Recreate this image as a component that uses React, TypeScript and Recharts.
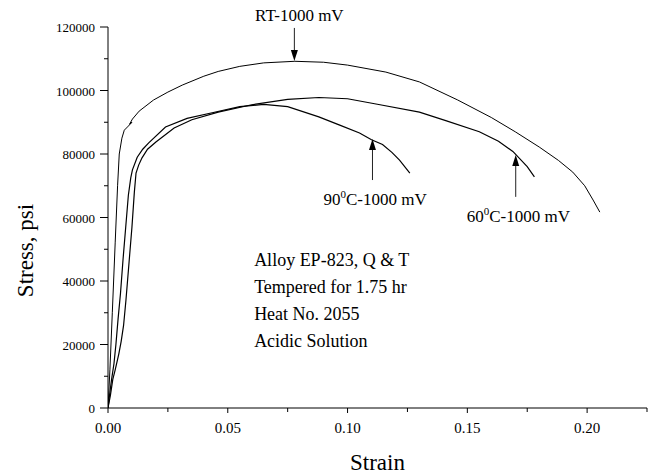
import { LineChart, Line, XAxis, YAxis, ReferenceLine, ReferenceDot } from "recharts";

type Pt = { x: number; y: number };

const strainTicks = [0, 0.025, 0.05, 0.075, 0.1, 0.125, 0.15, 0.175, 0.2, 0.225];
const stressTicks = [0, 10000, 20000, 30000, 40000, 50000, 60000, 70000, 80000, 90000, 100000, 110000, 120000];

const rtCurve: Pt[] = [
  { x: 0, y: 0 },
  { x: 0.0008, y: 12000 },
  { x: 0.0018, y: 30000 },
  { x: 0.003, y: 52000 },
  { x: 0.004, y: 70000 },
  { x: 0.0047, y: 80000 },
  { x: 0.0058, y: 85000 },
  { x: 0.0068, y: 87500 },
  { x: 0.0085, y: 88800 },
  { x: 0.01, y: 90000 },
  { x: 0.009, y: 89400 },
  { x: 0.0102, y: 91000 },
  { x: 0.013, y: 93500 },
  { x: 0.019, y: 97000 },
  { x: 0.025, y: 99500 },
  { x: 0.031, y: 101700 },
  { x: 0.04, y: 104500 },
  { x: 0.046, y: 106000 },
  { x: 0.055, y: 107600 },
  { x: 0.065, y: 108700 },
  { x: 0.078, y: 109200 },
  { x: 0.09, y: 108900 },
  { x: 0.1, y: 108000 },
  { x: 0.116, y: 105800 },
  { x: 0.13, y: 102700 },
  { x: 0.146, y: 97000 },
  { x: 0.16, y: 91500 },
  { x: 0.17, y: 87000 },
  { x: 0.18, y: 82200 },
  { x: 0.188, y: 78000 },
  { x: 0.194, y: 74300 },
  { x: 0.199, y: 70000 },
  { x: 0.2025, y: 65500 },
  { x: 0.2053, y: 61700 },
];

const c60Curve: Pt[] = [
  { x: 0, y: 0 },
  { x: 0.001, y: 4000 },
  { x: 0.002, y: 9000 },
  { x: 0.003, y: 12000 },
  { x: 0.0045, y: 17000 },
  { x: 0.0055, y: 21000 },
  { x: 0.0065, y: 26000 },
  { x: 0.0075, y: 34000 },
  { x: 0.0088, y: 46000 },
  { x: 0.01, y: 57000 },
  { x: 0.011, y: 68000 },
  { x: 0.0117, y: 74000 },
  { x: 0.0128, y: 76500 },
  { x: 0.0142, y: 78800 },
  { x: 0.0165, y: 81500 },
  { x: 0.02, y: 83800 },
  { x: 0.0276, y: 88200 },
  { x: 0.035, y: 90800 },
  { x: 0.046, y: 93200 },
  { x: 0.06, y: 95500 },
  { x: 0.075, y: 97200 },
  { x: 0.088, y: 97800 },
  { x: 0.1, y: 97400 },
  { x: 0.113, y: 95600 },
  { x: 0.13, y: 93200 },
  { x: 0.141, y: 90500 },
  { x: 0.155, y: 87000 },
  { x: 0.163, y: 84000 },
  { x: 0.169, y: 80800 },
  { x: 0.175, y: 76000 },
  { x: 0.178, y: 72800 },
];

const c90Curve: Pt[] = [
  { x: 0, y: 0 },
  { x: 0.0008, y: 5000 },
  { x: 0.0015, y: 9000 },
  { x: 0.0025, y: 14000 },
  { x: 0.0033, y: 20000 },
  { x: 0.0042, y: 28000 },
  { x: 0.0052, y: 36000 },
  { x: 0.0063, y: 47000 },
  { x: 0.0074, y: 57000 },
  { x: 0.0085, y: 67000 },
  { x: 0.0095, y: 72500 },
  { x: 0.0102, y: 75000 },
  { x: 0.0122, y: 79000 },
  { x: 0.0145, y: 81500 },
  { x: 0.017, y: 83500 },
  { x: 0.024, y: 88500 },
  { x: 0.033, y: 91200 },
  { x: 0.0435, y: 93000 },
  { x: 0.055, y: 94900 },
  { x: 0.065, y: 95600 },
  { x: 0.075, y: 94900 },
  { x: 0.088, y: 91700 },
  { x: 0.097, y: 89000 },
  { x: 0.105, y: 86600 },
  { x: 0.11, y: 84500 },
  { x: 0.1146, y: 83000 },
  { x: 0.1185, y: 80500 },
  { x: 0.1217, y: 78100 },
  { x: 0.126, y: 74000 },
];

const infoLines = ["Alloy EP-823, Q & T", "Tempered for 1.75 hr", "Heat No. 2055", "Acidic Solution"];

const FONT = '"Liberation Serif", "Times New Roman", Times, serif';
const serif = { fontFamily: FONT };

function StrainTick(props: any) {
  const { x, y, payload } = props;
  const v = payload.value as number;
  const major = Math.abs(v / 0.05 - Math.round(v / 0.05)) < 1e-6;
  return (
    <g>
      <line x1={x} x2={x} y1={y} y2={y + (major ? 5 : 4)} stroke="#000" />
      {major && (
        <text x={x} y={y + 25} textAnchor="middle" fontSize={15} style={serif} fill="#000">
          {v.toFixed(2)}
        </text>
      )}
    </g>
  );
}

function StressTick(props: any) {
  const { x, y, payload } = props;
  const v = payload.value as number;
  const major = v % 20000 === 0;
  return (
    <g>
      <line x1={x} x2={x - (major ? 8 : 4)} y1={y} y2={y} stroke="#000" />
      {major && (
        <text x={x - 13} y={y + 5} textAnchor="end" fontSize={13} style={serif} fill="#000">
          {v}
        </text>
      )}
    </g>
  );
}

// arrow drawn from the label end to the tip on the curve
function arrow(label: "rt" | "c90" | "c60") {
  return (p: any) => {
    const { x1, y1, x2, y2 } = p;
    const dir = y2 > y1 ? 1 : -1;
    const head = `${x2},${y2} ${x2 - 3.5},${y2 - dir * 11} ${x2 + 3.5},${y2 - dir * 11}`;
    let text = null;
    if (label === "rt") {
      text = (
        <text x={x1 + 5} y={y1 - 7} textAnchor="middle" fontSize={17} style={serif} fill="#000">
          RT-1000 mV
        </text>
      );
    } else {
      const t = label === "c90" ? "90" : "60";
      text = (
        <text x={x1 - 49} y={y1 + 25} fontSize={17} style={serif} fill="#000">
          <tspan>{t}</tspan>
          <tspan dy={-7} fontSize={11}>0</tspan>
          <tspan dy={7}>C-1000 mV</tspan>
        </text>
      );
    }
    return (
      <g>
        <line x1={x1} y1={y1} x2={x2} y2={y2 - dir * 8} stroke="#222" strokeWidth={1} />
        <polygon points={head} fill="#000" />
        {text}
      </g>
    );
  };
}

function InfoBlock(p: any) {
  const { cx, cy } = p;
  return (
    <g>
      {infoLines.map((s, i) => (
        <text key={s} x={cx} y={cy + i * 27} fontSize={18} style={serif} fill="#000">
          {s}
        </text>
      ))}
    </g>
  );
}

export default function App() {
  return (
    <div style={{ position: "absolute", left: 0, top: 0, width: 656, height: 475, background: "#fff", fontFamily: FONT }}>
      <LineChart width={656} height={475} margin={{ top: 27, right: 9, bottom: 37, left: 8 }} style={serif}>
        <XAxis
          dataKey="x"
          type="number"
          domain={[0, 0.225]}
          ticks={strainTicks}
          interval={0}
          allowDataOverflow
          height={30}
          tickSize={0}
          tickMargin={0}
          tickLine={false}
          tick={<StrainTick />}
          axisLine={{ stroke: "#000", strokeWidth: 1 }}
          label={{
            content: (lp: any) => {
              const vb = lp.viewBox;
              return (
                <text x={vb.x + vb.width / 2} y={vb.y + 62} textAnchor="middle" fontSize={23} style={serif} fill="#000">
                  Strain
                </text>
              );
            },
          }}
        />
        <YAxis
          type="number"
          domain={[0, 120000]}
          ticks={stressTicks}
          interval={0}
          width={100}
          tickSize={0}
          tickMargin={0}
          tickLine={false}
          tick={<StressTick />}
          axisLine={{ stroke: "#000", strokeWidth: 1 }}
          label={{
            content: (lp: any) => {
              const vb = lp.viewBox;
              const cx = vb.x + 25;
              const cy = vb.y + vb.height / 2 + 33;
              return (
                <text x={cx} y={cy} transform={`rotate(-90 ${cx} ${cy})`} textAnchor="middle" fontSize={23} style={serif} fill="#000">
                  Stress, psi
                </text>
              );
            },
          }}
        />
        <Line data={rtCurve} dataKey="y" type="linear" dot={false} stroke="#000" strokeWidth={1} isAnimationActive={false} />
        <Line data={c60Curve} dataKey="y" type="linear" dot={false} stroke="#000" strokeWidth={1.2} isAnimationActive={false} />
        <Line data={c90Curve} dataKey="y" type="linear" dot={false} stroke="#000" strokeWidth={1.2} isAnimationActive={false} />
        <ReferenceLine segment={[{ x: 0.0778, y: 119700 }, { x: 0.0778, y: 109300 }]} shape={arrow("rt")} />
        <ReferenceLine segment={[{ x: 0.1104, y: 71800 }, { x: 0.1104, y: 84700 }]} shape={arrow("c90")} />
        <ReferenceLine segment={[{ x: 0.1702, y: 66500 }, { x: 0.1702, y: 79700 }]} shape={arrow("c60")} />
        <ReferenceDot x={0.061} y={44700} r={0} shape={<InfoBlock />} />
      </LineChart>
    </div>
  );
}
